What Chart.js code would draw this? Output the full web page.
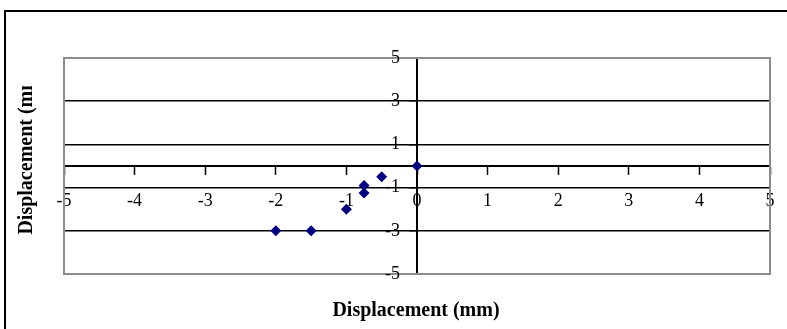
<!DOCTYPE html>
<html>
<head>
<meta charset="utf-8">
<script src="https://cdn.jsdelivr.net/npm/chart.js@4/dist/chart.umd.min.js"></script>
<style>
  body { margin: 0; background: #fff; }
  canvas { display: block; }
</style>
</head>
<body>
<canvas id="dispChart" width="787" height="329"></canvas>
<script>
// displacement readings (mm)
const dispX = [0, -0.5, -0.75, -0.75, -1, -1.5, -2];
const dispY = [0, -0.5, -0.9, -1.25, -2, -3, -3];
const xTicks = [-5, -4, -3, -2, -1, 0, 1, 2, 3, 4, 5];
const yTicks = [-5, -3, -1, 1, 3, 5];
const xTitle = 'Displacement (mm)';
const yTitle = 'Displacement (mm)';

const serif = "'Liberation Serif', 'Times New Roman', serif";
Chart.defaults.font.family = serif;
Chart.defaults.color = '#000';

// outer frame, plot border, y tick labels and the two axis titles
const framePlugin = {
    id: 'frame',
    beforeDraw(chart) {
        const ctx = chart.ctx;
        ctx.save();
        ctx.strokeStyle = '#000';
        ctx.lineWidth = 2;
        ctx.strokeRect(5, 11, 900, 400);
        ctx.restore();
    },
    beforeDatasetsDraw(chart) {
        const a = chart.chartArea;
        const ctx = chart.ctx;
        ctx.save();
        ctx.strokeStyle = '#8c8c8c';
        ctx.lineWidth = 2;
        ctx.strokeRect(a.left, a.top, a.right - a.left, a.bottom - a.top);
        ctx.restore();
    },
    afterDraw(chart) {
        const ctx = chart.ctx;
        const xs = chart.scales.x;
        const ys = chart.scales.y;
        ctx.save();
        ctx.fillStyle = '#000';

        // y labels sit left of the crossing axis, with the ticks
        ctx.font = '18px ' + serif;
        ctx.textAlign = 'right';
        ctx.textBaseline = 'middle';
        const axisX = xs.getPixelForValue(0);
        yTicks.forEach(v => ctx.fillText(String(v), axisX - 17, ys.getPixelForValue(v)));

        ctx.font = 'bold 20px ' + serif;
        ctx.textAlign = 'center';
        ctx.fillText(xTitle, 416, 311);

        // y title is cut off at the top, as in the source picture
        ctx.beginPath();
        ctx.rect(0, 86, 60, 243);
        ctx.clip();
        ctx.translate(27, 151);
        ctx.rotate(-Math.PI / 2);
        ctx.fillText(yTitle, 0, 0);
        ctx.restore();
    }
};

const noOverhang = (scale) => {
    scale.paddingLeft = 0;
    scale.paddingRight = 0;
    scale.paddingTop = 0;
    scale.paddingBottom = 0;
};

new Chart(document.getElementById('dispChart'), {
    type: 'scatter',
    data: {
        datasets: [{
            data: dispX.map((x, i) => ({ x: x, y: dispY[i] })),
            pointStyle: 'rectRot',
            pointRadius: 5.5,
            backgroundColor: '#000080',
            borderColor: '#000080',
            borderWidth: 0
        }]
    },
    options: {
        responsive: false,
        animation: false,
        layout: { padding: { left: 64, top: 58, right: 17, bottom: 55 } },
        plugins: {
            legend: { display: false },
            tooltip: { enabled: false }
        },
        scales: {
            x: {
                type: 'linear',
                min: -5,
                max: 5,
                position: { y: 0 },
                afterFit: noOverhang,
                afterBuildTicks: (scale) => { scale.ticks = xTicks.map(v => ({ value: v })); },
                grid: {
                    drawOnChartArea: false,
                    drawTicks: true,
                    tickLength: 8,
                    tickWidth: 1.5,
                    tickColor: '#000'
                },
                border: { display: true, color: '#000', width: 2 },
                ticks: {
                    autoSkip: false,
                    maxRotation: 0,
                    padding: 16,
                    font: { size: 18 },
                    color: '#000'
                }
            },
            y: {
                min: -5,
                max: 5,
                position: { x: 0 },
                afterFit: noOverhang,
                afterBuildTicks: (scale) => { scale.ticks = yTicks.map(v => ({ value: v })); },
                grid: {
                    drawOnChartArea: true,
                    color: (c) => Math.abs(c.tick.value) === 5 ? '#8c8c8c' : '#000',
                    lineWidth: 1.5,
                    drawTicks: true,
                    tickLength: 7,
                    tickWidth: 1.5,
                    tickColor: '#000'
                },
                border: { display: true, color: '#000', width: 2 },
                ticks: { display: false }
            }
        }
    },
    plugins: [framePlugin]
});
</script>
</body>
</html>
